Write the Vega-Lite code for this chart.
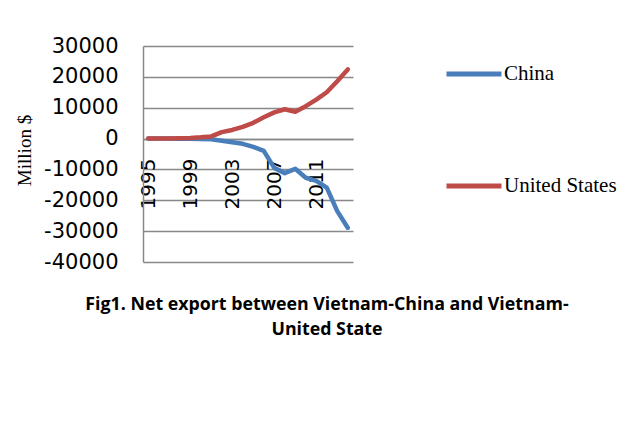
{
  "$schema": "https://vega.github.io/schema/vega-lite/v6.json",
  "width": 210,
  "height": 216,
  "autosize": {"type": "none"},
  "padding": {"left": 143, "top": 46, "right": 280, "bottom": 186},
  "background": "white",
  "title": {
    "text": ["Fig1. Net export between Vietnam-China and Vietnam-", "United State"],
    "orient": "bottom",
    "anchor": "middle",
    "dx": 79,
    "offset": 24,
    "font": "Open Sans",
    "fontSize": 17.8,
    "fontWeight": "bold",
    "lineHeight": 25,
    "color": "black"
  },
  "data": {
    "values": [
      {"year": 1995, "country": "China", "value": 0},
      {"year": 1996, "country": "China", "value": 0},
      {"year": 1997, "country": "China", "value": 0},
      {"year": 1998, "country": "China", "value": -50},
      {"year": 1999, "country": "China", "value": -50},
      {"year": 2000, "country": "China", "value": -100},
      {"year": 2001, "country": "China", "value": -250},
      {"year": 2002, "country": "China", "value": -700},
      {"year": 2003, "country": "China", "value": -1200},
      {"year": 2004, "country": "China", "value": -1700},
      {"year": 2005, "country": "China", "value": -2700},
      {"year": 2006, "country": "China", "value": -4000},
      {"year": 2007, "country": "China", "value": -9500},
      {"year": 2008, "country": "China", "value": -11200},
      {"year": 2009, "country": "China", "value": -9800},
      {"year": 2010, "country": "China", "value": -12700},
      {"year": 2011, "country": "China", "value": -13700},
      {"year": 2012, "country": "China", "value": -15900},
      {"year": 2013, "country": "China", "value": -23500},
      {"year": 2014, "country": "China", "value": -28900},
      {"year": 1995, "country": "United States", "value": 0},
      {"year": 1996, "country": "United States", "value": 0},
      {"year": 1997, "country": "United States", "value": 50},
      {"year": 1998, "country": "United States", "value": 100},
      {"year": 1999, "country": "United States", "value": 200},
      {"year": 2000, "country": "United States", "value": 400},
      {"year": 2001, "country": "United States", "value": 700},
      {"year": 2002, "country": "United States", "value": 2100},
      {"year": 2003, "country": "United States", "value": 2800},
      {"year": 2004, "country": "United States", "value": 3800},
      {"year": 2005, "country": "United States", "value": 5100},
      {"year": 2006, "country": "United States", "value": 6900},
      {"year": 2007, "country": "United States", "value": 8500},
      {"year": 2008, "country": "United States", "value": 9500},
      {"year": 2009, "country": "United States", "value": 8700},
      {"year": 2010, "country": "United States", "value": 10500},
      {"year": 2011, "country": "United States", "value": 12600},
      {"year": 2012, "country": "United States", "value": 15000},
      {"year": 2013, "country": "United States", "value": 18600},
      {"year": 2014, "country": "United States", "value": 22400}
    ]
  },
  "mark": {"type": "line", "strokeWidth": 4.5, "strokeCap": "round", "strokeJoin": "round"},
  "encoding": {
    "x": {
      "field": "year",
      "type": "ordinal",
      "scale": {"type": "point", "padding": 0.5},
      "axis": {
        "values": [1995, 1999, 2003, 2007, 2011],
        "title": null,
        "labelAngle": -90,
        "labelFont": "DejaVu Sans",
        "labelFontSize": 20,
        "labelColor": "black",
        "ticks": false,
        "offset": -123,
        "domainColor": "#888888",
        "domainWidth": 1.5,
        "labelPadding": 19,
        "grid": false
      }
    },
    "y": {
      "field": "value",
      "type": "quantitative",
      "scale": {"domain": [-40000, 30000], "nice": false, "zero": false},
      "axis": {
        "values": [-40000, -30000, -20000, -10000, 0, 10000, 20000, 30000],
        "labelExpr": "'' + datum.value",
        "title": "Million $",
        "titleFont": "Liberation Serif",
        "titleFontSize": 19,
        "titleFontWeight": "normal",
        "titleColor": "black",
        "titlePadding": 9,
        "titleY": 104,
        "titleAlign": "center",
        "labelFont": "DejaVu Sans",
        "labelFontSize": 21,
        "labelColor": "black",
        "ticks": false,
        "labelPadding": 25,
        "domainColor": "#888888",
        "domainWidth": 1.5,
        "grid": true,
        "gridColor": "#888888",
        "gridWidth": 1.5
      }
    },
    "color": {
      "field": "country",
      "type": "nominal",
      "scale": {"domain": ["China", "United States"], "range": ["#4A7EBB", "#BE4B48"]},
      "legend": {
        "title": null,
        "orient": "none",
        "legendX": 301,
        "legendY": -2,
        "symbolType": "stroke",
        "symbolSize": 3025,
        "symbolStrokeWidth": 5,
        "labelFont": "Liberation Serif",
        "labelFontSize": 21,
        "labelColor": "black",
        "labelOffset": 0,
        "rowPadding": 72,
        "padding": 0
      }
    }
  },
  "config": {"view": {"stroke": null}}
}
